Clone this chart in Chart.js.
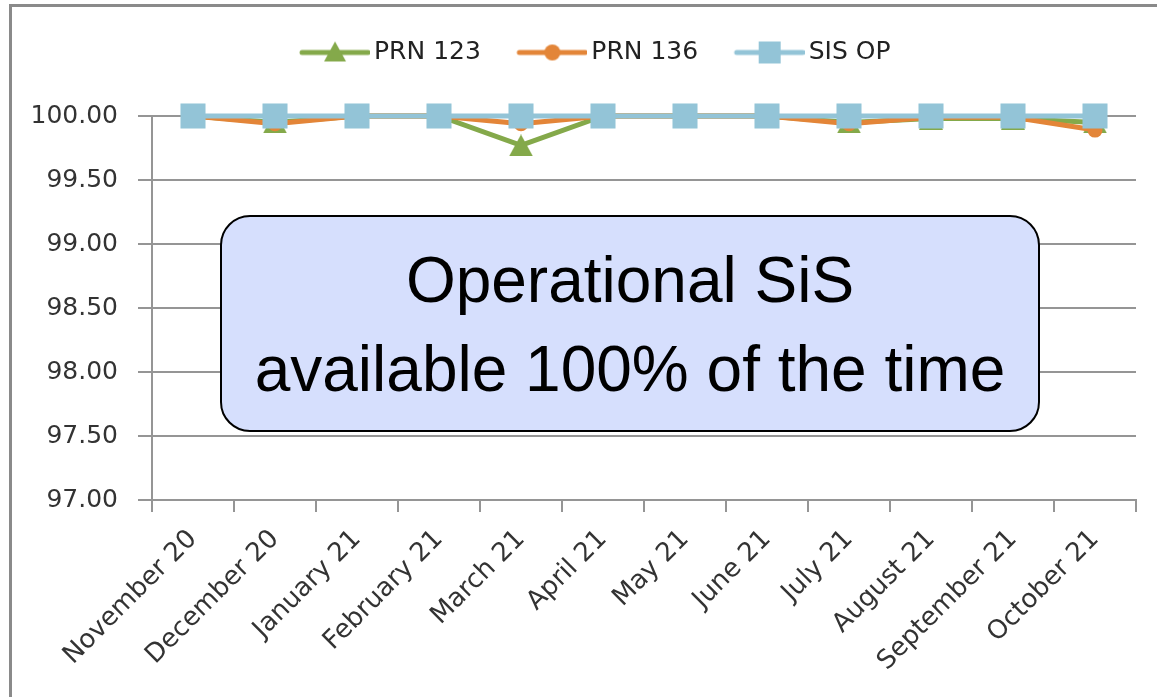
<!DOCTYPE html>
<html>
<head>
<meta charset="utf-8">
<script src="https://cdn.jsdelivr.net/npm/chart.js@4"></script>
<style>
  html, body { margin: 0; padding: 0; background: #fff; }
  #wrap { position: relative; width: 1157px; height: 697px; overflow: hidden; }
  #frame { position: absolute; left: 9px; top: 4px; width: 1300px; height: 900px;
           border-left: 3px solid #8a8a8a; border-top: 3px solid #8a8a8a; }
  #c { position: absolute; left: 0; top: 0; }
  #note { position: absolute; left: 220px; top: 215px; width: 816px; height: 194px;
          border: 2px solid #000; border-radius: 30px; background: #d6dffd;
          font-family: "Liberation Sans", Arial, sans-serif; font-size: 64px;
          line-height: 89px; text-align: center; color: #000; padding-top: 19px; box-sizing: content-box; }
  #note div { white-space: nowrap; }
</style>
</head>
<body>
<div id="wrap">
  <div id="frame"></div>
  <canvas id="c" width="1157" height="697"></canvas>
  <div id="note"><div>Operational SiS</div><div>available 100% of the time</div></div>
</div>
<script>
const categories = ["November 20","December 20","January 21","February 21","March 21","April 21",
                    "May 21","June 21","July 21","August 21","September 21","October 21"];
const prn123 = [100, 99.95, 100, 100, 99.77, 100, 100, 100, 99.95, 99.98, 99.98, 99.95];
const prn136 = [100, 99.94, 100, 100, 99.94, 100, 100, 100, 99.94, 99.99, 99.99, 99.89];
const sisOp  = [100, 100, 100, 100, 100, 100, 100, 100, 100, 100, 100, 100];
const yTicks = [97.00, 97.50, 98.00, 98.50, 99.00, 99.50, 100.00];

const GREEN = '#84a94a', ORANGE = '#e38538', BLUE = '#93c4d7';

function triangleImg(w, h, color) {
  const c = document.createElement('canvas'); c.width = w; c.height = h;
  const x = c.getContext('2d');
  x.fillStyle = color; x.beginPath();
  x.moveTo(w / 2, 0); x.lineTo(w, h); x.lineTo(0, h); x.closePath(); x.fill();
  return c;
}
const triImg = triangleImg(24, 22, GREEN);

function legendImg(kind, color) {
  const W = 105, H = 28, c = document.createElement('canvas'); c.width = W; c.height = H;
  const x = c.getContext('2d');
  const cy = H / 2, lx0 = 35, lx1 = 105, mx = 70;
  x.strokeStyle = color; x.lineWidth = 5; x.lineCap = 'round';
  x.beginPath(); x.moveTo(lx0 + 2, cy); x.lineTo(lx1 - 2, cy); x.stroke();
  x.fillStyle = color;
  if (kind === 'tri') { x.beginPath(); x.moveTo(mx, cy - 11); x.lineTo(mx + 11, cy + 9); x.lineTo(mx - 11, cy + 9); x.closePath(); x.fill(); }
  else if (kind === 'circ') { x.beginPath(); x.arc(mx, cy, 8, 0, Math.PI * 2); x.fill(); }
  else { x.fillRect(mx - 11, cy - 11, 22, 22); }
  return c;
}
const legendImgs = [legendImg('tri', GREEN), legendImg('circ', ORANGE), legendImg('rect', BLUE)];

const legendSpacer = {
  id: 'legendSpacer',
  beforeInit(chart) {
    const orig = chart.legend.fit;
    chart.legend.fit = function () { orig.bind(chart.legend)(); this.height = 86; };
  }
};

new Chart(document.getElementById('c'), {
  type: 'line',
  data: {
    labels: categories,
    datasets: [
      { label: 'PRN 123', data: prn123, borderColor: GREEN, backgroundColor: GREEN, borderWidth: 5,
        pointStyle: triImg, pointRadius: 12, order: 2, clip: false },
      { label: 'PRN 136', data: prn136, borderColor: ORANGE, backgroundColor: ORANGE, borderWidth: 5,
        pointStyle: 'circle', pointRadius: 7.5, pointBorderWidth: 0, order: 1, clip: false },
      { label: 'SIS OP', data: sisOp, borderColor: BLUE, backgroundColor: BLUE, borderWidth: 5,
        pointStyle: 'rect', pointRadius: 17.7, pointBorderWidth: 0, order: 0, clip: false }
    ]
  },
  options: {
    responsive: false,
    animation: false,
    devicePixelRatio: 1,
    layout: { padding: { top: 30, left: 28, right: 21, bottom: 0 } },
    plugins: {
      tooltip: { enabled: false },
      legend: {
        position: 'top',
        labels: {
          usePointStyle: true,
          pointStyleWidth: 88,
          padding: 10,
          color: '#222',
          font: { family: 'DejaVu Sans', size: 25 },
          generateLabels: (chart) => chart.data.datasets.map((ds, i) => ({
            text: ds.label, pointStyle: legendImgs[i], fillStyle: 'rgba(0,0,0,0)',
            strokeStyle: 'rgba(0,0,0,0)', lineWidth: 0, hidden: false, datasetIndex: i, fontColor: '#222'
          }))
        }
      }
    },
    scales: {
      x: {
        offset: true,
        grid: { offset: true, drawOnChartArea: false, color: '#959595', lineWidth: 2, tickLength: 12 },
        border: { color: '#959595', width: 2 },
        ticks: { autoSkip: false, minRotation: 45, maxRotation: 45, color: '#333',
                 font: { family: 'DejaVu Sans', size: 26 }, padding: 12 },
        afterFit: (s) => { s.height = 197; }
      },
      y: {
        min: 97, max: 100,
        afterBuildTicks: (s) => { s.ticks = yTicks.map(v => ({ value: v })); },
        grid: { color: '#959595', lineWidth: 2, tickLength: 14 },
        border: { color: '#959595', width: 2 },
        ticks: { color: '#333', font: { family: 'DejaVu Sans', size: 25 }, padding: 20,
                 callback: (v) => Number(v).toFixed(2) },
        afterFit: (s) => { s.width = 124; }
      }
    }
  },
  plugins: [legendSpacer]
});
</script>
</body>
</html>
